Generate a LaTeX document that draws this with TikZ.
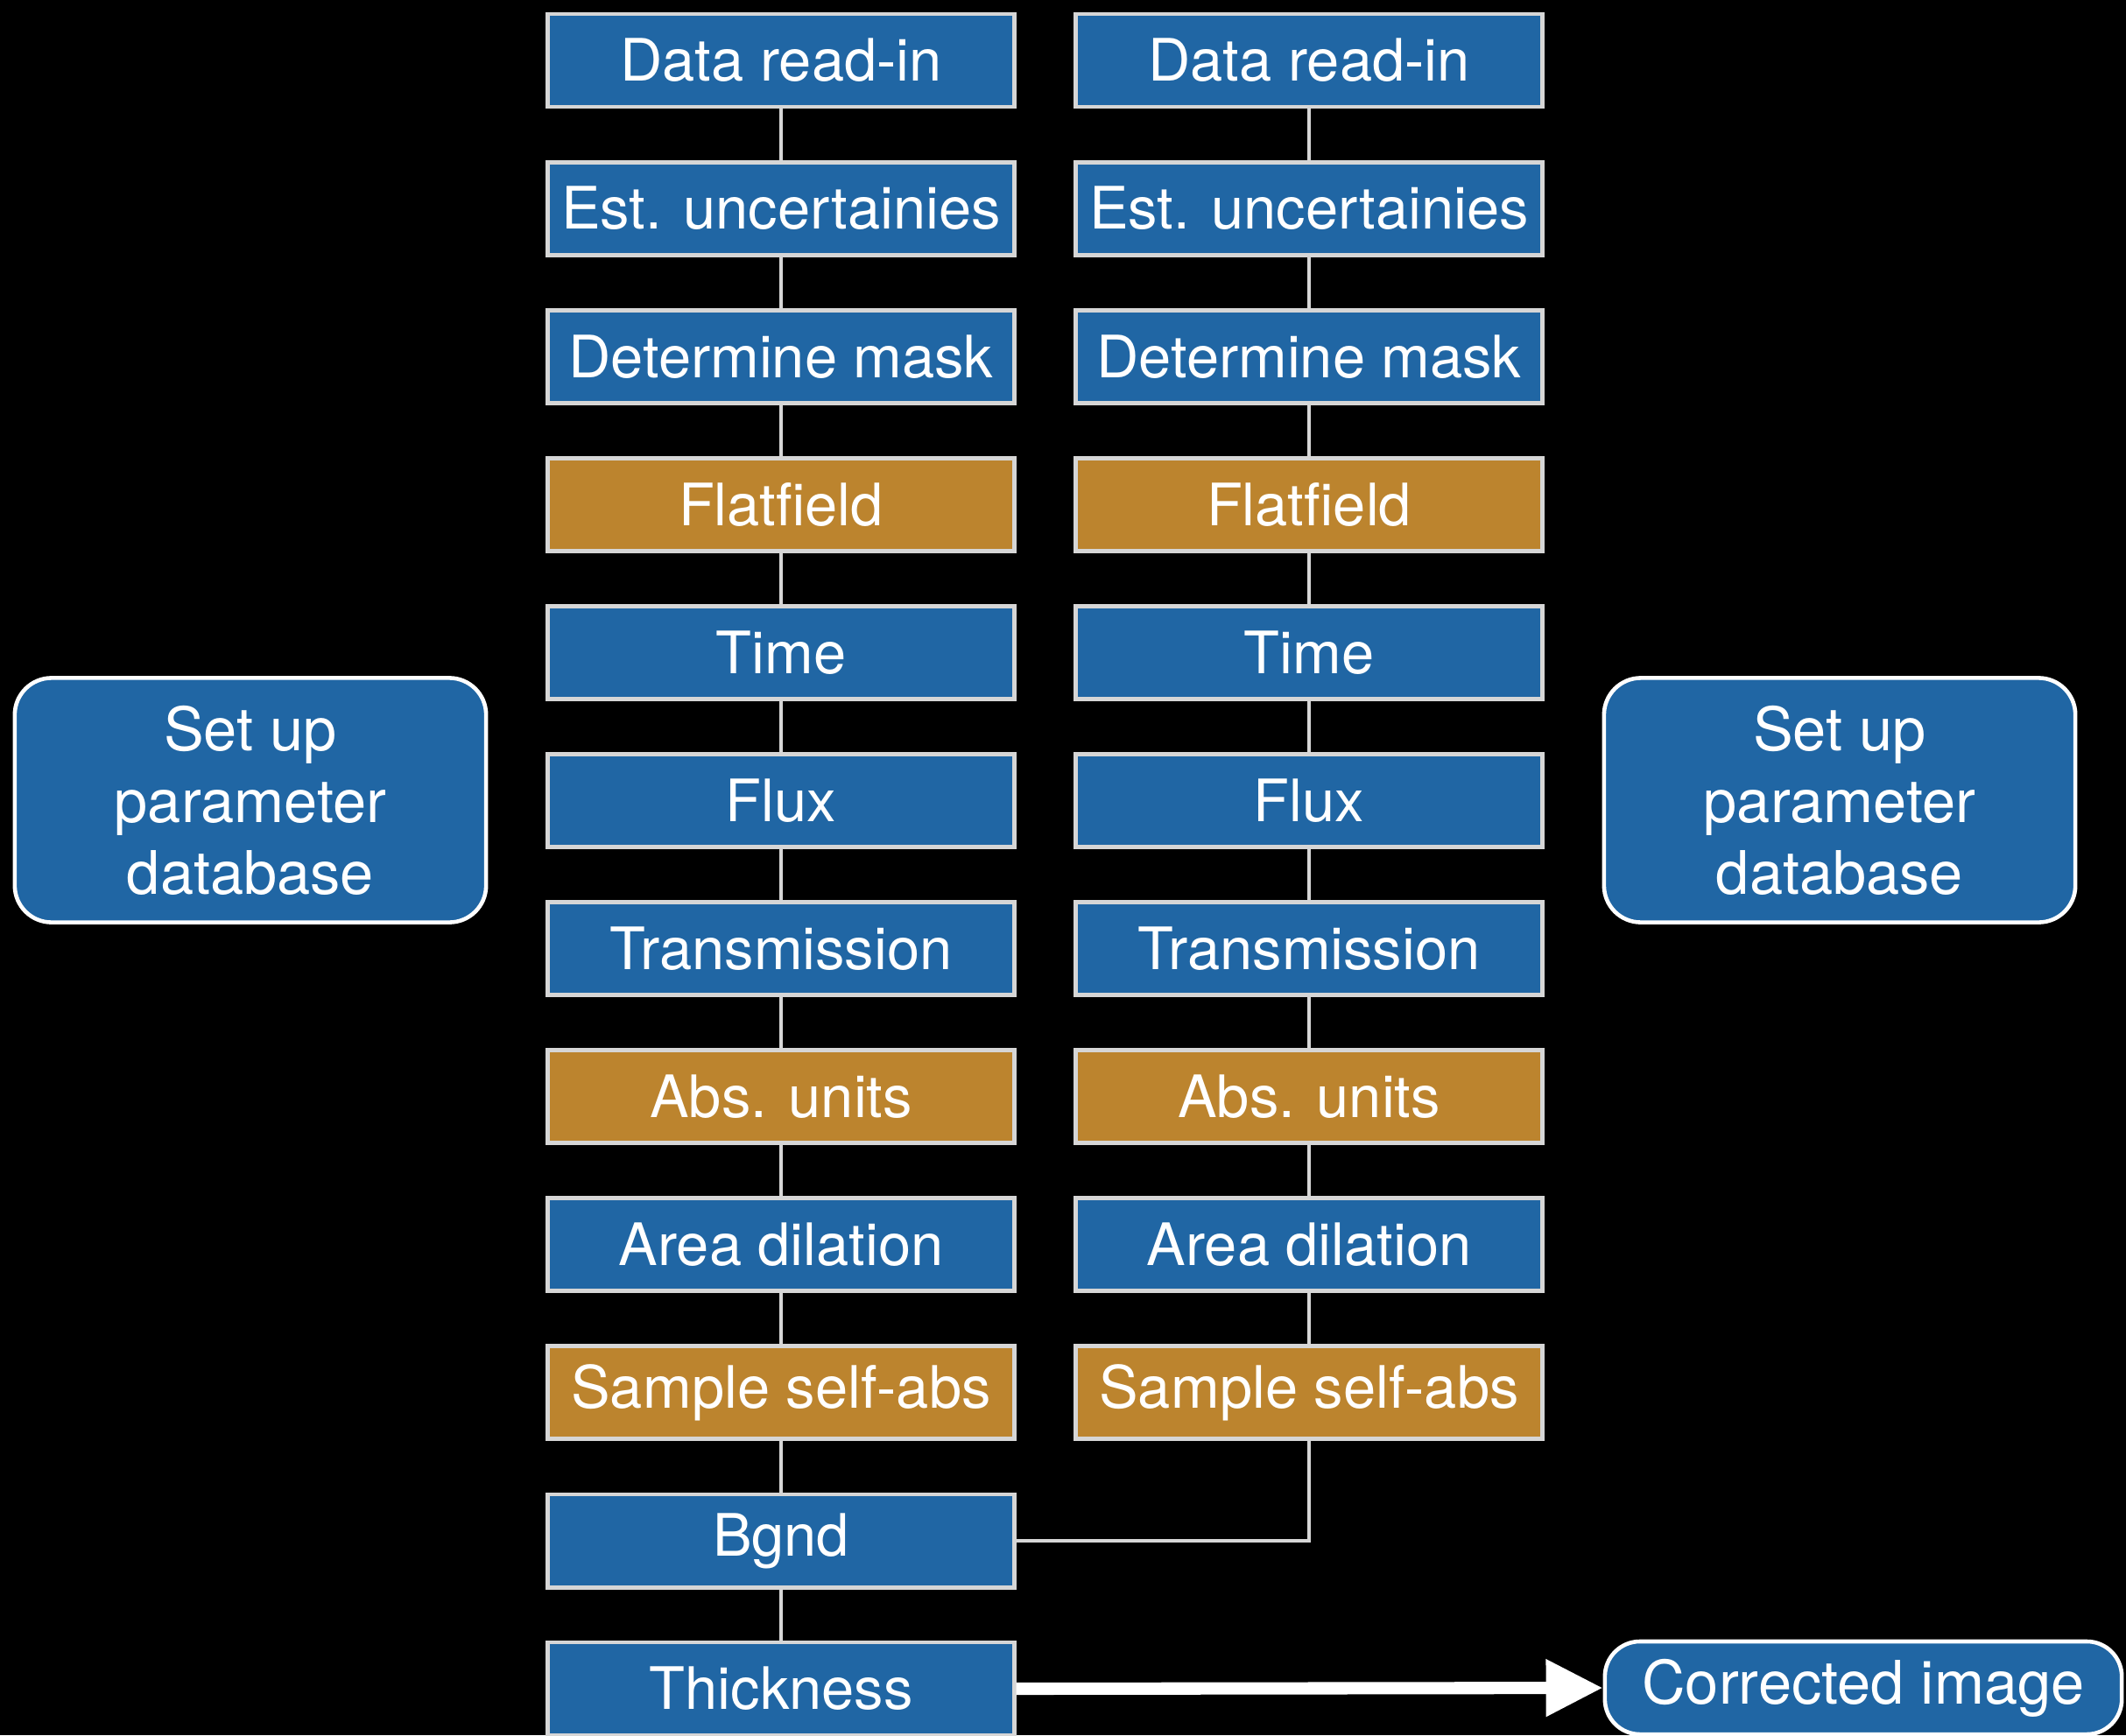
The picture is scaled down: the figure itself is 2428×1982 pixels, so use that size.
\documentclass[tikz,border=0pt]{standalone}
\usepackage{fontspec}
\setmainfont{TeX Gyre Heros}
\usetikzlibrary{arrows.meta,positioning}

\definecolor{stepblue}{RGB}{32,102,164}
\definecolor{steporange}{RGB}{188,132,46}
\definecolor{stepedge}{RGB}{214,214,214}

\tikzset{
  stepbox/.style={draw=stepedge,line width=1.4pt,fill=stepblue,text=white,
    minimum width=5.32cm,minimum height=1.06cm,inner sep=0pt},
  corrbox/.style={stepbox,fill=steporange},
  dbbox/.style={draw=white,line width=1.3pt,rounded corners=0.42cm,fill=stepblue,
    text=white,align=center,minimum width=5.38cm,minimum height=2.79cm,inner sep=0pt},
  link/.style={draw=stepedge,line width=1.1pt},
}

\begin{document}
\begin{tikzpicture}[font=\fontsize{19}{23.3}\selectfont,x=0.01cm,y=-0.01cm]
  \fill[black] (0,0) rectangle (2428,1982);
  \useasboundingbox (0,0) rectangle (2428,1982);

  % the two reduction chains
  \foreach \i/\txt/\sty in {1/Data read-in/stepbox,2/Est. uncertainies/stepbox,
      3/Determine mask/stepbox,4/Flatfield/corrbox,5/Time/stepbox,6/Flux/stepbox,
      7/Transmission/stepbox,8/Abs. units/corrbox,9/Area dilation/stepbox,
      10/Sample self-abs/corrbox} {
    \node[\sty] (l\i) at (892,{69+169.1*(\i-1)}) {\txt};
    \node[\sty] (r\i) at (1495,{69+169.1*(\i-1)}) {\txt};
  }
  \node[stepbox] (l11) at (892,1760) {Bgnd};
  \node[stepbox] (l12) at (892,1929) {Thickness};

  \foreach \i [evaluate=\i as \j using int(\i+1)] in {1,...,9} {
    \draw[link] (l\i) -- (l\j);
    \draw[link] (r\i) -- (r\j);
  }
  \draw[link] (l10) -- (l11);
  \draw[link] (l11) -- (l12);
  \draw[link] (r10.south) |- (l11.east);

  % parameter databases
  \node[dbbox,font=\fontsize{19.5}{23.3}\selectfont] (dbl) at (286,914) {Set up\\parameter\\database};
  \node[dbbox,font=\fontsize{19.5}{23.3}\selectfont] (dbr) at (2101,914) {Set up\\parameter\\database};

  % output
  \node[dbbox,minimum width=5.9cm,minimum height=1.06cm,rounded corners=0.4cm,font=\fontsize{19.5}{23.3}\selectfont] (corr) at (2128,1928) {Corrected image};
  \draw[white,line width=4pt,-{Triangle[length=0.65cm,width=0.62cm]}] (l12.east) -- (corr.west);
\end{tikzpicture}
\end{document}
